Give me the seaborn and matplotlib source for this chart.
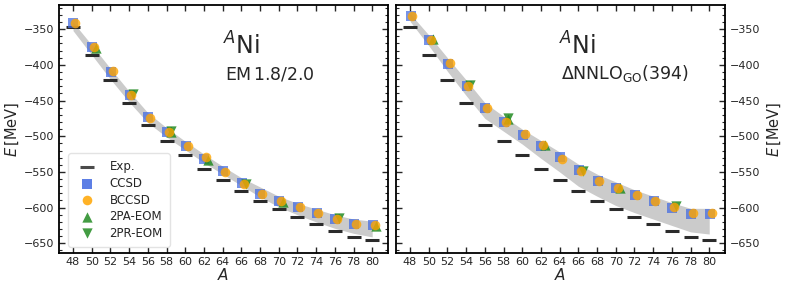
import numpy as np
import pandas as pd
import matplotlib
matplotlib.use("Agg")
import matplotlib.pyplot as plt
from matplotlib.ticker import MultipleLocator
import seaborn as sns

# mass numbers
mass = [48, 50, 52, 54, 56, 58, 60, 62, 64, 66, 68, 70, 72, 74, 76, 78, 80]

# experimental ground-state energies (MeV)
exp_energy = [-347.1, -385.5, -421.0, -453.2, -484.0, -506.5, -526.8, -545.3, -561.8,
              -576.8, -590.4, -602.4, -613.2, -623.1, -632.5, -641.8, -645.8]

# EM 1.8/2.0
em_ccsd = [-341.6, -375.2, -409.3, -442.0, -473.4, -494.4, -513.6, -531.3, -548.1,
           -565.9, -581.3, -590.7, -599.5, -607.0, -615.9, -623.4, -624.8]
em_bccsd = [-341.6, -375.0, -409.0, -442.0, -474.3, -494.4, -513.6, -528.5, -549.5,
            -567.3, -581.3, -590.7, -599.5, -607.0, -616.4, -623.4, -624.8]
em_2pa_mass = [50, 58, 62, 70, 80]
em_2pa = [-376.6, -493.5, -533.2, -591.6, -625.7]
em_2pr_mass = [54, 58, 66, 76]
em_2pr = [-441.0, -492.5, -566.8, -615.0]
em_band_hi = [-340, -372, -405, -437, -467, -488, -507, -525, -542, -558, -571, -584,
              -594, -602, -610, -616, -619]
em_band_lo = [-352, -386, -420, -452, -481, -501, -519, -537, -553, -569, -585, -599,
              -610, -620, -629, -636, -641]

# DeltaNNLO_GO(394)
go_ccsd = [-332.1, -365.0, -398.4, -429.0, -460.5, -480.2, -497.6, -513.2, -528.7,
           -547.5, -563.0, -572.4, -582.8, -591.3, -600.2, -608.6, -608.6]
go_bccsd = [-332.1, -365.0, -398.0, -429.0, -460.5, -480.0, -497.0, -512.2, -532.0,
            -548.4, -563.0, -572.4, -582.0, -591.0, -599.5, -608.0, -608.0]
go_2pa_mass = [50, 58, 62, 70]
go_2pa = [-363.0, -476.0, -512.0, -572.0]
go_2pr_mass = [54, 58, 66, 76]
go_2pr = [-428.5, -474.6, -549.0, -598.3]
go_band_hi = [-328, -358, -390, -421, -453, -472, -490, -506, -522, -539, -553, -564,
              -575, -584, -593, -601, -601]
go_band_lo = [-339, -373, -409, -443, -475, -493, -511, -531, -550, -570, -584, -597,
              -607, -616, -625, -634, -637]

sns.set_style("ticks")
plt.rcParams.update({
    "font.family": ["DejaVu Sans"],
    "axes.linewidth": 1.3,
    "xtick.direction": "in",
    "ytick.direction": "in",
    "xtick.top": True,
    "ytick.right": True,
    "xtick.major.size": 4.5,
    "ytick.major.size": 4.5,
    "ytick.minor.size": 2.5,
    "xtick.major.width": 1.0,
    "ytick.major.width": 1.0,
    "ytick.minor.width": 0.8,
    "xtick.labelsize": 8,
    "ytick.labelsize": 8,
    "axes.edgecolor": "black",
})

fig = plt.figure(figsize=(7.93, 2.92), dpi=100)
ax_l = fig.add_axes([0.0744, 0.135, 0.4150, 0.848])
ax_r = fig.add_axes([0.4994, 0.135, 0.4150, 0.848])


def draw_panel(ax, ccsd, bccsd, pa_mass, pa, pr_mass, pr, band_hi, band_lo):
    ax.fill_between(mass, band_lo, band_hi, color="#cbcbcb", linewidth=0, zorder=1)
    df_exp = pd.DataFrame({"A": mass, "E": exp_energy})
    sns.scatterplot(data=df_exp, x="A", y="E", ax=ax, marker="_", s=95,
                    color="#2b2b2b", edgecolor=None, linewidth=2.2, zorder=2,
                    label="Exp.")
    df_cc = pd.DataFrame({"A": np.array(mass) + 0.05, "E": ccsd})
    sns.scatterplot(data=df_cc, x="A", y="E", ax=ax, marker="s", s=55,
                    color="royalblue", alpha=0.72, linewidth=0, zorder=3,
                    label="CCSD")
    df_bcc = pd.DataFrame({"A": np.array(mass) + 0.25, "E": bccsd})
    sns.scatterplot(data=df_bcc, x="A", y="E", ax=ax, marker="o", s=48,
                    color="orange", alpha=0.8, linewidth=0, zorder=5,
                    label="BCCSD")
    df_pa = pd.DataFrame({"A": np.array(pa_mass) + 0.45, "E": pa})
    sns.scatterplot(data=df_pa, x="A", y="E", ax=ax, marker="^", s=55,
                    color="forestgreen", alpha=0.85, linewidth=0, zorder=4,
                    label="2PA-EOM")
    df_pr = pd.DataFrame({"A": np.array(pr_mass) + 0.45, "E": pr})
    sns.scatterplot(data=df_pr, x="A", y="E", ax=ax, marker="v", s=55,
                    color="forestgreen", alpha=0.85, linewidth=0, zorder=4,
                    label="2PR-EOM")
    ax.set_xlim(46.5, 81.7)
    ax.set_ylim(-663, -316)
    ax.set_xticks(mass)
    ax.yaxis.set_major_locator(MultipleLocator(50))
    ax.yaxis.set_minor_locator(MultipleLocator(10))
    ax.tick_params(axis="x", pad=3)
    ax.set_xlabel("$A$", fontsize=11, labelpad=0)


draw_panel(ax_l, em_ccsd, em_bccsd, em_2pa_mass, em_2pa, em_2pr_mass, em_2pr,
           em_band_hi, em_band_lo)
draw_panel(ax_r, go_ccsd, go_bccsd, go_2pa_mass, go_2pa, go_2pr_mass, go_2pr,
           go_band_hi, go_band_lo)

ax_l.set_ylabel(r"$E\,[\mathrm{MeV}]$", fontsize=10.5, labelpad=2)
ax_r.set_ylabel(r"$E\,[\mathrm{MeV}]$", fontsize=10.5, labelpad=4)
ax_r.yaxis.set_label_position("right")
ax_r.tick_params(axis="y", which="both", labelleft=False, labelright=True)

leg = ax_l.legend(loc="lower left", fontsize=8.5, frameon=True, labelspacing=0.3,
                  handletextpad=0.9, borderpad=0.6, bbox_to_anchor=(0.01, 0.0))
leg.get_frame().set_edgecolor("#dddddd")
for h in leg.legend_handles:
    h.set_alpha(0.85)
ax_r.get_legend().remove()

ax_l.text(0.555, 0.835, "$^{A}$Ni", transform=ax_l.transAxes, fontsize=17,
          ha="center", va="center")
ax_l.text(0.64, 0.72, r"EM$\,$1.8/2.0", transform=ax_l.transAxes, fontsize=12.5,
          ha="center", va="center")
ax_r.text(0.552, 0.835, "$^{A}$Ni", transform=ax_r.transAxes, fontsize=17,
          ha="center", va="center")
ax_r.text(0.695, 0.725, r"$\Delta$NNLO$_{\mathrm{GO}}$(394)", transform=ax_r.transAxes,
          fontsize=12.5, ha="center", va="center")

fig.savefig("out.png", dpi=100)
